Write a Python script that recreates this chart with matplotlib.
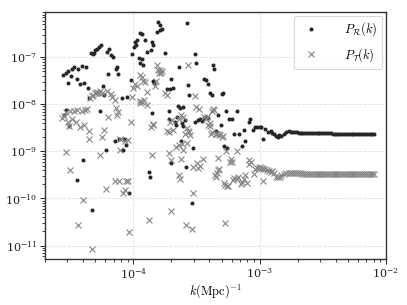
import numpy as np
import matplotlib
matplotlib.use("Agg")
import matplotlib.pyplot as plt

plt.rcParams['mathtext.fontset'] = 'cm'
plt.rcParams['font.family'] = 'serif'
plt.rcParams['font.serif'] = ['DejaVu Serif']

# scalar spectrum P_R(k), scattered part
k_R = [2.79e-5, 2.82e-5, 2.91e-5, 2.92e-5, 3.02e-5, 3.06e-5, 3.10e-5, 3.21e-5, 3.29e-5, 3.41e-5,
       3.56e-5, 3.60e-5, 3.67e-5, 3.79e-5, 3.90e-5, 3.97e-5, 4.09e-5, 4.20e-5, 4.35e-5, 4.46e-5,
       4.60e-5, 4.68e-5, 4.77e-5, 4.90e-5, 4.98e-5, 5.19e-5, 5.38e-5, 5.40e-5, 5.50e-5, 5.70e-5,
       5.90e-5, 6.06e-5, 6.20e-5, 6.30e-5, 6.44e-5, 6.70e-5, 6.90e-5, 7.15e-5, 7.28e-5, 7.46e-5,
       7.60e-5, 7.70e-5, 8.07e-5, 8.33e-5, 8.40e-5, 8.75e-5, 8.85e-5, 9.30e-5, 9.50e-5, 9.70e-5,
       1.01e-4, 1.03e-4, 1.05e-4, 1.07e-4, 1.10e-4, 1.12e-4, 1.12e-4, 1.16e-4, 1.16e-4, 1.20e-4,
       1.24e-4, 1.29e-4, 1.32e-4, 1.36e-4, 1.38e-4, 1.40e-4, 1.41e-4, 1.42e-4, 1.44e-4, 1.46e-4,
       1.55e-4, 1.58e-4, 1.61e-4, 1.63e-4, 1.68e-4, 1.78e-4, 1.84e-4, 1.90e-4, 1.93e-4, 1.95e-4,
       1.98e-4, 2.00e-4, 2.07e-4, 2.14e-4, 2.18e-4, 2.21e-4, 2.27e-4, 2.28e-4, 2.34e-4, 2.37e-4,
       2.42e-4, 2.49e-4, 2.49e-4, 2.57e-4, 2.62e-4, 2.65e-4, 2.73e-4, 2.78e-4, 2.90e-4, 2.96e-4,
       3.08e-4, 3.08e-4, 3.15e-4, 3.25e-4, 3.39e-4, 3.50e-4, 3.61e-4, 3.64e-4, 3.75e-4, 3.77e-4,
       3.91e-4, 3.93e-4, 4.06e-4, 4.18e-4, 4.28e-4, 4.37e-4, 4.53e-4, 4.72e-4, 4.96e-4, 5.00e-4,
       5.10e-4, 5.18e-4, 5.43e-4, 5.50e-4, 5.77e-4, 6.02e-4, 6.29e-4, 6.60e-4, 6.81e-4, 7.23e-4,
       7.46e-4, 7.69e-4, 8.17e-4, 8.42e-4, 8.85e-4, 9.23e-4, 9.50e-4, 1.00e-3, 1.03e-3, 1.06e-3,
       1.11e-3, 1.16e-3, 1.22e-3, 1.25e-3, 1.31e-3, 1.34e-3, 1.39e-3, 1.43e-3, 1.48e-3, 1.55e-3,
       1.62e-3, 1.70e-3]
P_R = [4.3e-8, 5.9e-9, 4.7e-8, 7.6e-9, 5.0e-8, 2.8e-8, 3.5e-9, 4.0e-8, 5.7e-8, 6.2e-8,
       3.5e-8, 2.5e-10, 5.5e-8, 2.75e-8, 6.4e-8, 6.7e-10, 2.9e-8, 6.2e-8, 2.2e-8, 1.36e-8,
       1.26e-7, 5.7e-11, 1.16e-7, 1.26e-7, 1.40e-7, 1.53e-7, 1.69e-7, 7.1e-9, 1.80e-7, 2.4e-8,
       1.55e-8, 1.07e-9, 1.3e-7, 4.5e-8, 1.48e-7, 1.1e-7, 1.0e-7, 1.66e-9, 5.5e-8, 6.2e-8,
       4.5e-8, 1.8e-9, 1.36e-8, 1.07e-9, 1.8e-9, 1.36e-9, 1.45e-8, 1.3e-10, 3.3e-8, 1.18e-7,
       1.66e-7, 2.15e-7, 1.8e-7, 2.3e-7, 9.5e-8, 3.2e-7, 7.7e-8, 3.1e-7, 9.1e-8, 6.9e-8,
       2.3e-7, 1.3e-7, 3.6e-10, 2.8e-10, 1.43e-7, 6.4e-9, 2.15e-7, 3.1e-8, 1.8e-7, 2.9e-8,
       3.5e-7, 5.5e-7, 3.8e-7, 4.9e-7, 3.9e-7, 1.26e-7, 2.1e-8, 7.2e-9, 5.0e-9, 2.1e-8,
       5.6e-10, 3.45e-8, 2.2e-8, 4.3e-9, 3.6e-9, 5.3e-9, 9.2e-9, 6.3e-8, 8.2e-9, 1.7e-9,
       4.1e-9, 3.5e-9, 8.6e-9, 4.7e-9, 4.6e-10, 5.3e-7, 2.6e-8, 1.6e-8, 7.9e-11, 1.2e-9,
       1.18e-7, 4.2e-9, 7.4e-8, 4.6e-9, 4.8e-9, 4.4e-9, 5.1e-9, 3.45e-8, 3.3e-8, 5.4e-9,
       5.1e-9, 2.7e-8, 1.7e-8, 1.58e-8, 6.9e-8, 5.6e-8, 2.7e-9, 5.8e-9, 3.7e-9, 1.65e-8,
       1.75e-8, 1.3e-9, 7.4e-9, 1.16e-9, 5.0e-9, 4.8e-9, 2.4e-9, 7.4e-9, 2.3e-9, 1.3e-9,
       2.9e-9, 1.7e-9, 4.3e-9, 5.0e-9, 2.9e-9, 3.3e-9, 3.3e-9, 3.3e-9, 3.3e-9, 1.8e-9,
       3.0e-9, 2.6e-9, 2.7e-9, 2.5e-9, 2.4e-9, 2.1e-9, 2.05e-9, 2.25e-9, 2.1e-9, 2.4e-9,
       2.6e-9, 2.65e-9]

# tensor spectrum P_T(k), scattered part
k_T = [2.74e-5, 2.84e-5, 2.93e-5, 2.95e-5, 3.02e-5, 3.09e-5, 3.14e-5, 3.16e-5, 3.29e-5, 3.37e-5,
       3.50e-5, 3.59e-5, 3.62e-5, 3.77e-5, 3.91e-5, 3.96e-5, 4.05e-5, 4.15e-5, 4.30e-5, 4.41e-5,
       4.45e-5, 4.55e-5, 4.67e-5, 4.70e-5, 4.82e-5, 4.94e-5, 5.05e-5, 5.17e-5, 5.30e-5, 5.44e-5,
       5.46e-5, 5.60e-5, 5.60e-5, 5.80e-5, 6.06e-5, 6.20e-5, 6.30e-5, 6.60e-5, 6.80e-5, 7.10e-5,
       7.15e-5, 7.30e-5, 7.40e-5, 7.60e-5, 7.70e-5, 7.80e-5, 7.80e-5, 8.20e-5, 8.60e-5, 8.60e-5,
       8.75e-5, 9.00e-5, 9.00e-5, 9.30e-5, 9.50e-5, 9.70e-5, 1.00e-4, 1.03e-4, 1.06e-4, 1.12e-4,
       1.12e-4, 1.13e-4, 1.16e-4, 1.18e-4, 1.20e-4, 1.21e-4, 1.23e-4, 1.27e-4, 1.28e-4, 1.34e-4,
       1.39e-4, 1.40e-4, 1.42e-4, 1.43e-4, 1.48e-4, 1.52e-4, 1.54e-4, 1.56e-4, 1.60e-4, 1.63e-4,
       1.65e-4, 1.68e-4, 1.78e-4, 1.84e-4, 1.84e-4, 1.90e-4, 1.90e-4, 1.95e-4, 1.98e-4, 1.98e-4,
       2.01e-4, 2.05e-4, 2.18e-4, 2.28e-4, 2.28e-4, 2.29e-4, 2.35e-4, 2.37e-4, 2.37e-4, 2.42e-4,
       2.49e-4, 2.49e-4, 2.57e-4, 2.62e-4, 2.65e-4, 2.65e-4, 2.70e-4, 2.73e-4, 2.78e-4, 2.82e-4,
       2.90e-4, 2.96e-4, 2.96e-4, 3.08e-4, 3.16e-4, 3.18e-4, 3.25e-4, 3.30e-4, 3.38e-4, 3.55e-4,
       3.64e-4, 3.75e-4, 3.81e-4, 3.93e-4, 4.06e-4, 4.06e-4, 4.13e-4, 4.17e-4, 4.20e-4, 4.30e-4,
       4.37e-4, 4.45e-4, 4.50e-4, 4.52e-4, 4.58e-4, 4.60e-4, 4.72e-4, 4.72e-4, 4.80e-4, 4.80e-4,
       4.87e-4, 5.00e-4, 5.10e-4, 5.18e-4, 5.30e-4, 5.33e-4, 5.43e-4, 5.50e-4, 5.57e-4, 5.80e-4,
       5.90e-4, 6.00e-4, 6.10e-4, 6.30e-4, 6.60e-4, 6.60e-4, 6.80e-4, 7.10e-4, 7.20e-4, 7.50e-4,
       7.60e-4, 7.90e-4, 8.17e-4, 8.30e-4, 8.50e-4, 8.95e-4, 9.20e-4, 9.50e-4, 9.80e-4, 1.01e-3,
       1.04e-3, 1.06e-3, 1.07e-3, 1.11e-3, 1.14e-3, 1.18e-3, 1.22e-3, 1.26e-3, 1.30e-3, 1.36e-3,
       1.40e-3, 1.45e-3, 1.49e-3, 1.56e-3, 1.62e-3, 1.70e-3]
P_T = [5.1e-9, 5.6e-9, 9.5e-10, 6.9e-9, 4.2e-9, 3.5e-9, 4.0e-10, 7.2e-9, 4.8e-9, 7.4e-9,
       4.2e-9, 7.7e-9, 2.7e-11, 3.3e-9, 7.4e-9, 9.3e-11, 3.6e-9, 7.7e-9, 7.8e-9, 2.7e-9,
       1.8e-9, 1.36e-8, 8.6e-12, 1.5e-8, 1.6e-8, 1.7e-8, 1.77e-8, 1.83e-8, 1.77e-8, 8.3e-10,
       1.9e-8, 1.7e-8, 2.0e-9, 2.9e-9, 1.63e-10, 1.95e-8, 5.3e-9, 1.66e-8, 1.4e-8, 1.25e-8,
       2.4e-10, 8.3e-9, 5.8e-9, 6.8e-9, 2.4e-10, 1.8e-9, 1.05e-9, 1.3e-10, 1.7e-9, 1.55e-10,
       2.3e-10, 1.75e-9, 2.4e-10, 1.9e-11, 4.2e-9, 1.45e-8, 2.2e-8, 2.75e-8, 2.5e-8, 4.1e-8,
       1.2e-8, 1.05e-8, 3.8e-8, 1.1e-8, 3.2e-8, 1.24e-8, 3.0e-8, 1.8e-8, 9.7e-9, 3.5e-11,
       3.3e-9, 8.4e-10, 3.6e-9, 3.9e-9, 2.5e-8, 3.2e-8, 6.8e-8, 5.3e-8, 4.6e-8, 5.4e-8,
       4.7e-8, 5.0e-8, 1.7e-8, 1.6e-8, 2.7e-9, 2.6e-9, 9.3e-10, 4.2e-9, 6.7e-10, 5.5e-11,
       4.6e-9, 2.8e-9, 1.26e-9, 1.4e-9, 5.0e-9, 3.1e-10, 2.6e-10, 5.9e-9, 7.0e-10, 1.45e-9,
       1.07e-9, 5.3e-9, 2.4e-9, 2.7e-11, 3.1e-9, 1.5e-9, 7.0e-8, 2.7e-9, 2.6e-9, 2.2e-9,
       2.2e-11, 4.7e-10, 1.3e-10, 1.5e-8, 8.8e-9, 5.6e-10, 4.4e-10, 8.1e-9, 4.9e-10, 7.0e-10,
       5.3e-9, 4.8e-9, 5.4e-9, 3.6e-9, 3.4e-9, 4.0e-9, 2.4e-9, 2.6e-9, 7.4e-9, 8.1e-9,
       7.6e-9, 3.1e-10, 2.9e-10, 2.4e-9, 3.4e-10, 2.4e-9, 7.3e-10, 4.0e-10, 4.3e-10, 2.3e-9,
       2.2e-9, 2.0e-9, 2.1e-9, 2.1e-10, 1.9e-10, 3.0e-11, 1.0e-9, 1.8e-10, 1.8e-10, 6.0e-10,
       7.0e-10, 6.0e-10, 2.5e-10, 2.7e-10, 2.6e-10, 1.0e-9, 2.8e-10, 2.0e-10, 2.2e-10, 2.6e-10,
       3.2e-10, 2.1e-10, 5.5e-10, 6.5e-10, 6.0e-10, 3.35e-10, 4.3e-10, 4.5e-10, 4.4e-10, 4.6e-10,
       4.4e-10, 2.4e-10, 4.3e-10, 4.2e-10, 4.0e-10, 3.9e-10, 3.7e-10, 3.9e-10, 3.4e-10, 2.9e-10,
       2.8e-10, 2.85e-10, 3.1e-10, 3.3e-10, 3.45e-10, 3.5e-10]

# converged tail at high k (k in 1e-3, P_R in 1e-9, P_T in 1e-10)
k_tail = [1.77, 1.84, 1.90, 1.97, 2.04, 2.11, 2.18, 2.26, 2.34, 2.42,
          2.51, 2.59, 2.68, 2.78, 2.88, 2.98, 3.08, 3.19, 3.30, 3.42,
          3.54, 3.66, 3.79, 3.92, 4.06, 4.20, 4.35, 4.50, 4.66, 4.83,
          4.99, 5.17, 5.35, 5.54, 5.73, 5.93, 6.14, 6.36, 6.58, 6.81,
          7.05, 7.30, 7.56, 7.82, 8.10]
PR_tail = [2.62, 2.60, 2.57, 2.54, 2.52, 2.50, 2.49, 2.48, 2.47, 2.46,
           2.46, 2.45, 2.45, 2.44, 2.44, 2.43, 2.43, 2.42, 2.42, 2.41,
           2.41, 2.41, 2.40, 2.40, 2.40, 2.39, 2.39, 2.39, 2.38, 2.38,
           2.38, 2.38, 2.37, 2.37, 2.37, 2.37, 2.36, 2.36, 2.36, 2.36,
           2.36, 2.35, 2.35, 2.35, 2.35]
PT_tail = [3.50, 3.50, 3.48, 3.45, 3.42, 3.40, 3.38, 3.37, 3.36, 3.35,
           3.34, 3.33, 3.33, 3.32, 3.32, 3.31, 3.31, 3.30, 3.30, 3.30,
           3.29, 3.29, 3.29, 3.28, 3.28, 3.28, 3.28, 3.27, 3.27, 3.27,
           3.27, 3.26, 3.26, 3.26, 3.26, 3.26, 3.25, 3.25, 3.25, 3.25,
           3.25, 3.25, 3.24, 3.24, 3.24]

x_ticks = [1e-4, 1e-3, 1e-2]
y_ticks = [1e-11, 1e-10, 1e-9, 1e-8, 1e-7]

kt = np.array(k_tail) * 1e-3
kR = np.concatenate([k_R, kt])
pR = np.concatenate([P_R, np.array(PR_tail) * 1e-9])
kT = np.concatenate([k_T, kt])
pT = np.concatenate([P_T, np.array(PT_tail) * 1e-10])

fig = plt.figure(figsize=(4.07, 3.05), dpi=100)
ax = fig.add_axes([0.111, 0.151, 0.837, 0.810])

ax.plot(kR, pR, 'o', ms=2.9, color='#262626', mew=0, label=r'$P_{\mathcal{R}}(k)$')
ax.plot(kT, pT, 'x', ms=4.2, mew=0.8, color='#858585', label=r'$P_{\mathcal{T}}(k)$')

ax.set_xscale('log')
ax.set_yscale('log')
ax.set_xticks(x_ticks)
ax.set_yticks(y_ticks)
ax.set_xlim(2.0e-5, 1e-2)
ax.set_ylim(5.2e-12, 9.2e-7)
ax.grid(True, which='major', ls='--', lw=0.6, color='#e0e0e0')
ax.set_axisbelow(True)
for s in ax.spines.values():
    s.set_color('#333333')
    s.set_linewidth(1.0)
ax.tick_params(which='major', length=3.5, width=0.7, pad=2, labelsize=8, colors='#222222')
ax.tick_params(which='minor', length=2, width=0.6, colors='#222222')
ax.set_xlabel(r'$k(\mathrm{Mpc})^{-1}$', fontsize=9, labelpad=1)

leg = ax.legend(loc='upper right', fontsize=9, frameon=True, borderaxespad=0.3,
                handletextpad=1.6, markerscale=1.0, labelspacing=0.6)
leg.get_frame().set_edgecolor('#d0d0d0')
leg.get_frame().set_linewidth(0.8)

fig.savefig('out.png', dpi=100)
